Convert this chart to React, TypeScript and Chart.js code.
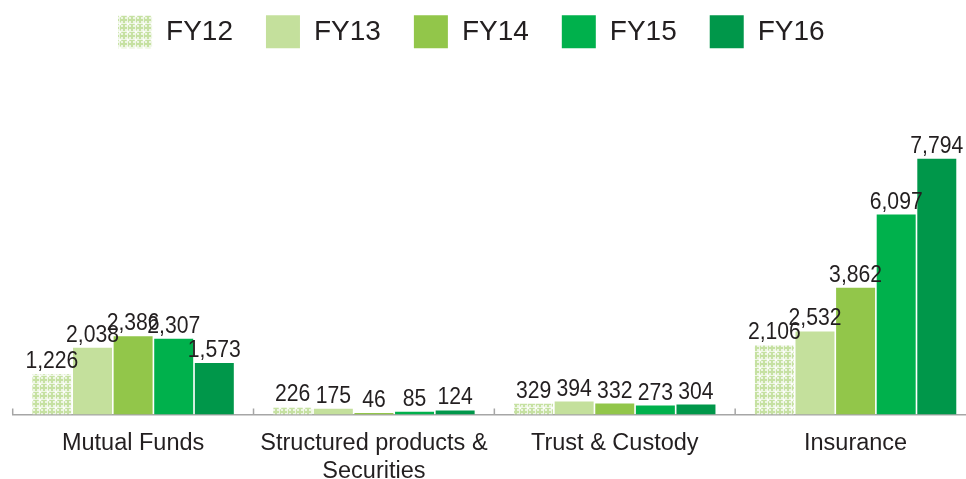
import React, { useEffect, useRef } from 'react';
import { Chart, registerables } from 'chart.js';

Chart.register(...registerables);

const FONT = "'Liberation Sans', Arial, Helvetica, sans-serif";
const TEXT_COLOR = '#231f20';

const categories: string[][] = [
  ['Mutual Funds'],
  ['Structured products &', 'Securities'],
  ['Trust & Custody'],
  ['Insurance'],
];
const seriesNames = ['FY12', 'FY13', 'FY14', 'FY15', 'FY16'];
const fy12 = [1226, 226, 329, 2106];
const fy13 = [2038, 175, 394, 2532];
const fy14 = [2386, 46, 332, 3862];
const fy15 = [2307, 85, 273, 6097];
const fy16 = [1573, 124, 304, 7794];
const seriesValues = [fy12, fy13, fy14, fy15, fy16];
const seriesColors = ['#c6e1a2', '#c4e09c', '#92c64a', '#00b14c', '#00974a'];

function makePattern(base: string): CanvasPattern | string {
  const c = document.createElement('canvas');
  c.width = 8;
  c.height = 8;
  const g = c.getContext('2d');
  if (!g) return base;
  g.fillStyle = '#eef6e4';
  g.fillRect(0, 0, 8, 8);
  g.fillStyle = base;
  g.fillRect(3, 1, 2, 6);
  g.fillRect(1, 3, 6, 2);
  g.fillRect(0, 0, 1, 8);
  g.fillRect(0, 0, 8, 1);
  g.fillStyle = 'rgba(255,255,255,0.9)';
  [[0, 0], [8, 0], [0, 8], [8, 8]].forEach(([x, y]) => {
    g.beginPath();
    g.arc(x, y, 1.4, 0, Math.PI * 2);
    g.fill();
  });
  const p = g.createPattern(c, 'repeat');
  return p || base;
}

const valueLabels = {
  id: 'valueLabels',
  afterDatasetsDraw(chart: any) {
    const { ctx } = chart;
    const sx = 0.92;
    chart.data.datasets.forEach((ds: any, i: number) => {
      const meta = chart.getDatasetMeta(i);
      meta.data.forEach((bar: any, j: number) => {
        const v = ds.data[j] as number;
        ctx.save();
        ctx.font = `23px ${FONT}`;
        ctx.fillStyle = TEXT_COLOR;
        ctx.textAlign = 'center';
        ctx.textBaseline = 'alphabetic';
        ctx.translate(bar.x, bar.y - 6);
        ctx.scale(sx, 1);
        ctx.fillText(v.toLocaleString('en-US'), 0, 0);
        ctx.restore();
      });
    });
  },
};

const boundaryTicks = {
  id: 'boundaryTicks',
  afterDraw(chart: any) {
    const { ctx } = chart;
    const xs = chart.scales.x;
    const n = chart.data.labels.length;
    const w = (xs.right - xs.left) / n;
    ctx.save();
    ctx.strokeStyle = '#a6a6a6';
    ctx.lineWidth = 1.5;
    ctx.beginPath();
    for (let i = 0; i <= n; i++) {
      const x = xs.left + i * w;
      ctx.moveTo(x, xs.top);
      ctx.lineTo(x, xs.top - 6);
    }
    ctx.stroke();
    ctx.restore();
  },
};

const legendShift = {
  id: 'legendShift',
  afterLayout(chart: any) {
    const lg = chart.legend;
    if (lg) {
      lg.left -= 23;
      lg.right -= 23;
      lg.top -= 61;
      lg.bottom -= 61;
    }
  },
};

export default function App() {
  const ref = useRef<HTMLCanvasElement>(null);
  useEffect(() => {
    if (!ref.current) return;
    const bg = seriesColors.map((c, i) => (i === 0 ? makePattern(c) : c));
    const chart = new Chart(ref.current, {
      type: 'bar',
      data: {
        labels: categories,
        datasets: seriesNames.map((name, i) => ({
          label: name,
          data: seriesValues[i],
          backgroundColor: bg[i] as any,
          borderWidth: 0,
          barPercentage: 0.96,
          categoryPercentage: 0.843,
        })),
      },
      options: {
        animation: false,
        responsive: true,
        maintainAspectRatio: false,
        layout: { padding: { left: 12.7, right: 4, top: 43.3, bottom: 0 } },
        plugins: {
          tooltip: { enabled: false },
          legend: {
            position: 'top',
            labels: {
              boxWidth: 34,
              boxHeight: 33,
              padding: 33,
              color: TEXT_COLOR,
              font: { size: 28, family: FONT },
            },
          },
        },
        scales: {
          x: {
            grid: { display: false, drawTicks: false },
            border: { display: true, color: '#a6a6a6', width: 1.5 },
            ticks: {
              padding: 15,
              color: TEXT_COLOR,
              autoSkip: false,
              maxRotation: 0,
              font: { size: 23.5, family: FONT, lineHeight: 28 / 23.5 },
            },
            afterFit: (s: any) => {
              s.height = 64.5;
            },
          },
          y: { display: false, min: 0, max: 9000 },
        },
      },
      plugins: [valueLabels, boundaryTicks, legendShift],
    });
    return () => chart.destroy();
  }, []);
  return (
    <div
      style={{
        position: 'absolute',
        left: 0,
        top: 0,
        width: 966,
        height: 479,
        overflow: 'hidden',
        background: '#ffffff',
      }}
    >
      <div style={{ position: 'relative', width: 980, height: 479 }}>
        <canvas ref={ref} />
      </div>
    </div>
  );
}
